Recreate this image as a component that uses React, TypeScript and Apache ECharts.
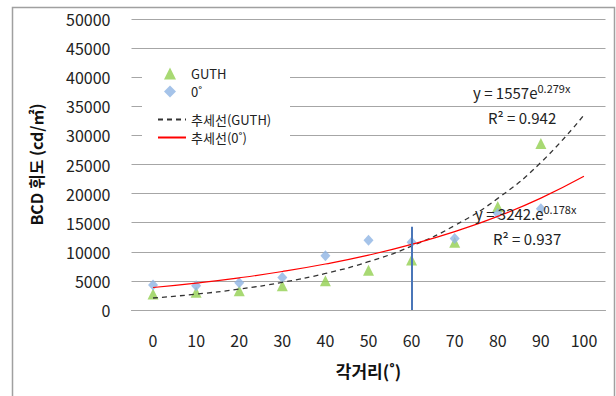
import React, { useEffect, useRef } from "react";
import * as echarts from "echarts";

const categories = ["0", "10", "20", "30", "40", "50", "60", "70", "80", "90", "100"];
const guthValues = [2750, 3050, 3300, 4160, 5020, 6850, 8600, 11650, 17800, 28600, null];
const deg0Values = [4280, 4150, 4700, 5600, 9300, 12000, 11650, 12300, 16600, 17400, null];
const guthTrend = [2060, 2720, 3600, 4750, 6280, 8300, 10980, 14510, 19180, 25350, 33500];
const deg0Trend = [3870, 4630, 5530, 6610, 7900, 9430, 11270, 13470, 16090, 19230, 22970];
const markerCategory = "60";
const markerTop = 14300;
const yTicks = { min: 0, max: 50000, interval: 5000 };

const FONT = "'Noto Sans CJK KR', 'Noto Sans', sans-serif";

export default function App() {
  const ref = useRef<HTMLDivElement>(null);
  useEffect(() => {
    if (!ref.current) return;
    const chart = echarts.init(ref.current, undefined, { renderer: "svg" });
    const eq = (x: number, y: number, text: string) => ({
      type: "text",
      x,
      y,
      z: 100,
      style: {
        text,
        fill: "#222",
        font: `15px ${FONT}`,
        rich: {
          m: { fontSize: 15, fontFamily: FONT, fill: "#222", lineHeight: 20 },
          s: { fontSize: 11, fontFamily: FONT, fill: "#222", verticalAlign: "top", lineHeight: 20, padding: [0, 0, 6, 0] },
        },
      },
    });
    chart.setOption({
      animation: false,
      textStyle: { fontFamily: FONT },
      grid: { left: 131.5, right: 10.5, top: 19, bottom: 86 },
      xAxis: {
        type: "category",
        data: categories,
        axisLine: { lineStyle: { color: "#a6a6a6" } },
        axisTick: { show: false },
        axisLabel: { fontSize: 16, color: "#222", margin: 22 },
        name: "각거리(˚)",
        nameLocation: "middle",
        nameGap: 52,
        nameTextStyle: { fontSize: 17, fontWeight: "bold", color: "#111" },
      },
      yAxis: {
        type: "value",
        min: yTicks.min,
        max: yTicks.max,
        interval: yTicks.interval,
        axisLine: { show: false },
        axisTick: { show: false },
        splitLine: { lineStyle: { color: "#a6a6a6" } },
        axisLabel: { fontSize: 16, color: "#222", margin: 21, formatter: (v: number) => String(v) },
        name: "BCD 휘도 (cd/㎡)",
        nameLocation: "middle",
        nameGap: 88,
        nameRotate: 90,
        nameTextStyle: { fontSize: 16, fontWeight: "bold", color: "#111" },
      },
      legend: [
        {
          data: ["GUTH", "0˚"],
          orient: "vertical",
          left: 164,
          top: 67,
          padding: 0,
          itemWidth: 12,
          itemHeight: 12,
          itemGap: 5,
          textStyle: { fontSize: 13, color: "#222", padding: [0, 0, 0, 10] },
        },
        {
          data: ["추세선(GUTH)", "추세선(0˚)"],
          orient: "vertical",
          left: 157,
          top: 113,
          padding: 0,
          itemWidth: 28,
          itemHeight: 12,
          itemGap: 5,
          itemStyle: { color: "rgba(0,0,0,0)", borderWidth: 0 },
          textStyle: { fontSize: 13, color: "#222" },
        },
      ],
      graphic: [
        {
          type: "rect",
          z: 3,
          shape: { x: 142, y: 60, width: 148, height: 90 },
          style: { fill: "#fff" },
        },
        {
          type: "rect",
          z: 0,
          shape: { x: 12.5, y: 7.5, width: 602, height: 400 },
          style: { fill: "none", stroke: "#a0a0a0", lineWidth: 1.5 },
        },
        eq(473, 82, "{m|y = 1557e}{s|0.279x}"),
        eq(488, 107, "{m|R² = 0.942}"),
        eq(475, 203, "{m|y = 3242.e}{s|0.178x}"),
        eq(493, 228, "{m|R² = 0.937}"),
      ],
      series: [
        {
          name: "GUTH",
          type: "scatter",
          data: guthValues,
          symbol: "triangle",
          symbolSize: [11, 11],
          itemStyle: { color: "#92D050" },
          z: 2,
        },
        {
          name: "0˚",
          type: "scatter",
          data: deg0Values,
          symbol: "diamond",
          symbolSize: [10, 11],
          itemStyle: { color: "#8EB4E3" },
          z: 2,
        },
        {
          name: "추세선(GUTH)",
          type: "line",
          data: guthTrend,
          smooth: true,
          symbol: "none",
          lineStyle: { color: "#333", width: 1.3, type: [5, 4] },
          itemStyle: { color: "#333" },
          z: 3,
        },
        {
          name: "추세선(0˚)",
          type: "line",
          data: deg0Trend,
          smooth: true,
          symbol: "none",
          lineStyle: { color: "#ff0000", width: 1.2 },
          itemStyle: { color: "#ff0000" },
          z: 3,
          markLine: {
            silent: true,
            symbol: "none",
            label: { show: false },
            lineStyle: { color: "#4a76b8", width: 2, type: "solid" },
            data: [[{ coord: [markerCategory, 0] }, { coord: [markerCategory, markerTop] }]],
          },
        },
      ],
    });
    return () => chart.dispose();
  }, []);
  return (
    <div
      ref={ref}
      style={{ position: "fixed", left: 0, top: 0, width: 616, height: 396, background: "#fff" }}
    />
  );
}
